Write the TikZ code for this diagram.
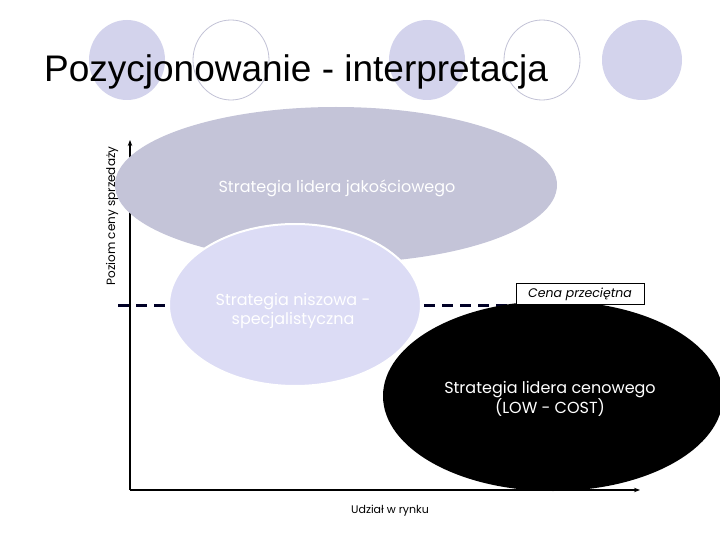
\documentclass[tikz,border=0pt]{standalone}
\usepackage{fontspec}
\setmainfont{Poppins}
\newfontfamily\titlefont{Liberation Sans}
\usetikzlibrary{arrows.meta}
\definecolor{lav}{HTML}{D3D3EC}
\definecolor{bigg}{HTML}{C4C4D8}
\definecolor{niche}{HTML}{DCDCF5}
\begin{document}
\begin{tikzpicture}[x=1pt,y=-1pt,
  deco/.style={fill=lav,draw=none},
  decoo/.style={draw=lav!80!gray,line width=0.8pt,fill=white},
  lbl/.style={text=white,font=\fontsize{16}{19}\selectfont,align=center},
  axis/.style={line width=1.2pt,-{Stealth[length=6pt]}}]
\useasboundingbox (0,0) rectangle (720,540);
\fill[white] (0,0) rectangle (720,540);
% decorative circles
\draw[deco] (127,60) ellipse (38 and 40);
\draw[decoo] (231,60) ellipse (38 and 40);
\draw[deco] (427,60) ellipse (38 and 40);
\draw[decoo] (542,60) ellipse (38 and 40);
\draw[deco] (642,60) ellipse (40 and 40);
\node[anchor=base west,font=\titlefont\fontsize{37}{42}\selectfont,inner sep=0] (title) at (44,82) {Pozycjonowanie - interpretacja};
% axes
\coordinate (o) at (130,490);
\coordinate (ytop) at (130,140);
\coordinate (xend) at (640,490);
\draw[axis] (o) -- (ytop);
\draw[axis] (o) -- (xend);
% ellipses
\fill[bigg] (336,185) ellipse (221 and 78);
\coordinate (dl) at (118,305);
\coordinate (dr) at (515,305);
\draw[line width=3pt,dash pattern=on 11pt off 7pt,draw=black!85!blue] (dl) -- (dr);
\draw[fill=niche,draw=white,line width=2pt] (295,305) ellipse (126 and 81);
\fill[black] (553,396) ellipse (170 and 95);
\node[draw=black,fill=white,line width=0.6pt,inner sep=2pt,minimum width=128pt,minimum height=21pt,font=\itshape\fontsize{12.5}{14}\selectfont] (cena) at (580,294) {Cena przeciętna};
\node[lbl] (jak) at (337,188) {Strategia lidera jakościowego};
\node[lbl] (nisz) at (293,311) {Strategia niszowa -\\specjalistyczna};
\node[lbl] (cen) at (550,399) {Strategia lidera cenowego\\(LOW - COST)};
\node[font=\fontsize{11}{13}\selectfont] (xl) at (390,511) {Udział w rynku};
\node[font=\fontsize{12}{14}\selectfont,rotate=90] (yl) at (112,216) {Poziom ceny sprzedaży};
\end{tikzpicture}
\end{document}
